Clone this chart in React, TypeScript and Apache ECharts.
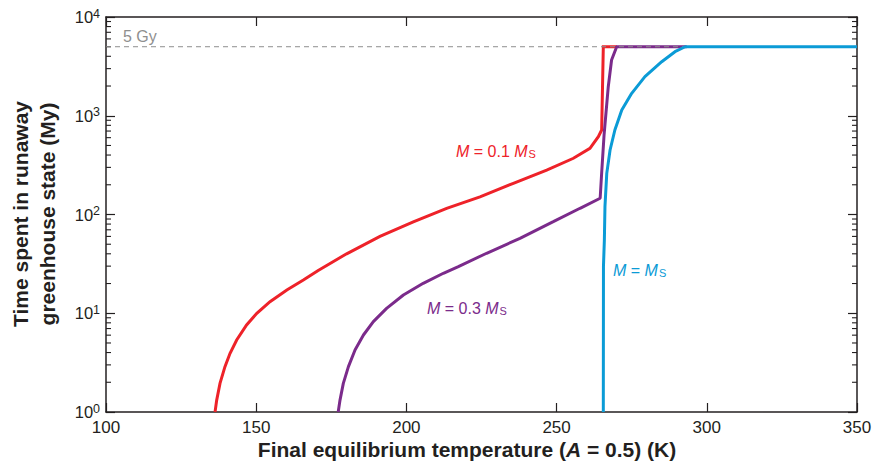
import React, { useEffect, useRef } from 'react';
import * as echarts from 'echarts';

// Final equilibrium temperature (K) and time in runaway greenhouse state (My)
const redTemps = [136.3, 136.85, 137.95, 139.6, 141.3, 143.5, 146.8, 150.2, 154.6, 160.2, 165.7, 170.5, 180.1, 191.2, 202.3, 213.4, 224.5, 235.6, 246.7, 255.6, 261.1, 263.9, 265.0, 265.55, 270.1];
const redTimes = [1, 1.32, 1.95, 2.88, 3.93, 5.36, 7.6, 10.0, 13.1, 17.2, 21.7, 27, 40, 60, 84, 115.6, 151, 207, 282, 371, 468, 614, 717, 5000, 5000];

const purpleTemps = [177.3, 177.9, 179.0, 180.7, 182.9, 185.7, 189.0, 193.4, 199.0, 205.6, 212.3, 217.3, 226.7, 237.8, 248.9, 257.8, 264.5, 265.0, 265.8, 267.2, 268.3, 270.0, 293.3];
const purpleTimes = [1, 1.32, 1.95, 2.88, 4.25, 6.02, 8.22, 11.2, 15.3, 20.1, 25.4, 29.6, 40.5, 57.4, 84.6, 115.6, 146, 263, 638, 1968, 3670, 5000, 5000];

const blueTemps = [265.55, 265.6, 265.9, 266.1, 266.7, 267.8, 269.4, 271.7, 275.0, 279.4, 285.0, 289.4, 292.8, 350];
const blueTimes = [1, 30, 55, 120, 261, 450, 717, 1143, 1687, 2487, 3525, 4454, 5000, 5000];

const limitTemps = [100, 350];
const limitTimes = [5000, 5000];

const xMin = 100;
const xMax = 350;
const xStep = 50;
const yMin = 1;
const yMax = 10000;
const minorDecades = [1, 10, 100, 1000];
const minorMultipliers = [2, 3, 4, 5, 6, 7, 8, 9];

const RED = '#ee2229';
const PURPLE = '#7b2b8b';
const BLUE = '#0b9bd6';
const INK = '#231f20';
const GRAY = '#8f8f8f';
const FONT = '"Liberation Sans", Arial, sans-serif';

const zip = (xs: number[], ys: number[]) => xs.map((x, i) => [x, ys[i]]);

export default function App() {
  const ref = useRef<HTMLDivElement>(null);
  useEffect(() => {
    if (!ref.current) return;
    const chart = echarts.init(ref.current, null, { renderer: 'svg' });
    const minorTicks: number[][] = [];
    minorDecades.forEach((d) => minorMultipliers.forEach((m) => minorTicks.push([xMin, d * m])));

    const labelRich = {
      i: { fontStyle: 'italic', fontSize: 16, fontFamily: FONT },
      s: { fontSize: 11, fontFamily: FONT, verticalAlign: 'bottom', lineHeight: 10, padding: [6, 0, 0, 1] },
    };

    const axisBase = {
      axisLine: { show: true, onZero: false, lineStyle: { color: INK, width: 1.5 } },
      axisTick: { show: true, inside: true, length: 9, lineStyle: { color: INK, width: 1.2 } },
      splitLine: { show: false },
    };

    const option: any = {
      animation: false,
      backgroundColor: '#ffffff',
      grid: { left: 106, right: 15, top: 17, bottom: 50, containLabel: false, outerBoundsMode: 'none' },
      xAxis: [
        {
          type: 'value', min: xMin, max: xMax, interval: xStep, position: 'bottom', ...axisBase,
          axisLabel: { color: INK, fontSize: 17, fontFamily: FONT, margin: 7 },
        },
        {
          type: 'value', min: xMin, max: xMax, interval: xStep, position: 'top', ...axisBase,
          axisLabel: { show: false },
        },
      ],
      yAxis: [
        {
          type: 'log', logBase: 10, min: yMin, max: yMax, position: 'left', ...axisBase,
          axisLabel: {
            color: INK, fontFamily: FONT, margin: 6,
            formatter: (v: number) => '{b|10}{p|' + Math.round(Math.log10(v)) + '}',
            rich: {
              b: { fontSize: 16.5, fontFamily: FONT, color: INK, lineHeight: 20 },
              p: { fontSize: 12.5, fontFamily: FONT, color: INK, lineHeight: 12, verticalAlign: 'top' },
            },
          },
        },
        {
          type: 'log', logBase: 10, min: yMin, max: yMax, position: 'right', ...axisBase,
          axisLabel: { show: false },
        },
      ],
      series: [
        {
          type: 'custom', xAxisIndex: 0, yAxisIndex: 0, silent: true, clip: false, z: 1,
          data: minorTicks,
          renderItem: (params: any, api: any) => {
            const v = api.value(1);
            const l = api.coord([xMin, v]);
            const r = api.coord([xMax, v]);
            return {
              type: 'group',
              children: [
                { type: 'line', shape: { x1: l[0], y1: l[1], x2: l[0] + 5, y2: l[1] }, style: { stroke: INK, lineWidth: 1.1 } },
                { type: 'line', shape: { x1: r[0], y1: r[1], x2: r[0] - 5, y2: r[1] }, style: { stroke: INK, lineWidth: 1.1 } },
              ],
            };
          },
        },
        {
          name: 'M = 0.1 MS', type: 'line', data: zip(redTemps, redTimes), showSymbol: false, z: 2,
          lineStyle: { color: RED, width: 3, join: 'miter' }, itemStyle: { color: RED },
        },
        {
          name: 'M = 0.3 MS', type: 'line', data: zip(purpleTemps, purpleTimes), showSymbol: false, z: 2,
          lineStyle: { color: PURPLE, width: 3 }, itemStyle: { color: PURPLE },
        },
        {
          name: '5 Gy', type: 'line', data: zip(limitTemps, limitTimes), showSymbol: false, z: 2,
          lineStyle: { color: GRAY, width: 1, type: [5, 4] },
        },
        {
          name: 'M = MS', type: 'line', data: zip(blueTemps, blueTimes), showSymbol: false, z: 2,
          lineStyle: { color: BLUE, width: 3 }, itemStyle: { color: BLUE },
        },
      ],
      graphic: [
        {
          type: 'text', x: 123, y: 36,
          style: { text: '5 Gy', fill: GRAY, fontSize: 16, fontFamily: FONT, align: 'left', verticalAlign: 'middle' },
        },
        {
          type: 'text', x: 456, y: 151,
          style: { text: '{i|M} = 0.1 {i|M}{s|S}', fill: RED, fontSize: 16, fontFamily: FONT, rich: labelRich, align: 'left', verticalAlign: 'middle' },
        },
        {
          type: 'text', x: 427, y: 308,
          style: { text: '{i|M} = 0.3 {i|M}{s|S}', fill: PURPLE, fontSize: 16, fontFamily: FONT, rich: labelRich, align: 'left', verticalAlign: 'middle' },
        },
        {
          type: 'text', x: 613, y: 270,
          style: { text: '{i|M} = {i|M}{s|S}', fill: BLUE, fontSize: 16, fontFamily: FONT, rich: labelRich, align: 'left', verticalAlign: 'middle' },
        },
        {
          type: 'text', x: 467, y: 449,
          style: {
            text: '{b|Final equilibrium temperature (}{bi|A}{b| = 0.5) (K)}',
            fill: INK, align: 'center', verticalAlign: 'middle',
            rich: {
              b: { fontSize: 21, fontWeight: 'bold', fontFamily: FONT, fill: INK },
              bi: { fontSize: 21, fontWeight: 'bold', fontStyle: 'italic', fontFamily: FONT, fill: INK },
            },
          },
        },
        {
          type: 'text', x: 34, y: 214, rotation: Math.PI / 2,
          style: {
            text: 'Time spent in runaway\ngreenhouse state (My)',
            fill: INK, fontSize: 21, fontWeight: 'bold', fontFamily: FONT, lineHeight: 27,
            align: 'center', verticalAlign: 'middle',
          },
        },
      ],
    };
    chart.setOption(option);
    return () => chart.dispose();
  }, []);
  return <div ref={ref} style={{ position: 'fixed', left: 0, top: 0, width: 872, height: 462 }} />;
}
